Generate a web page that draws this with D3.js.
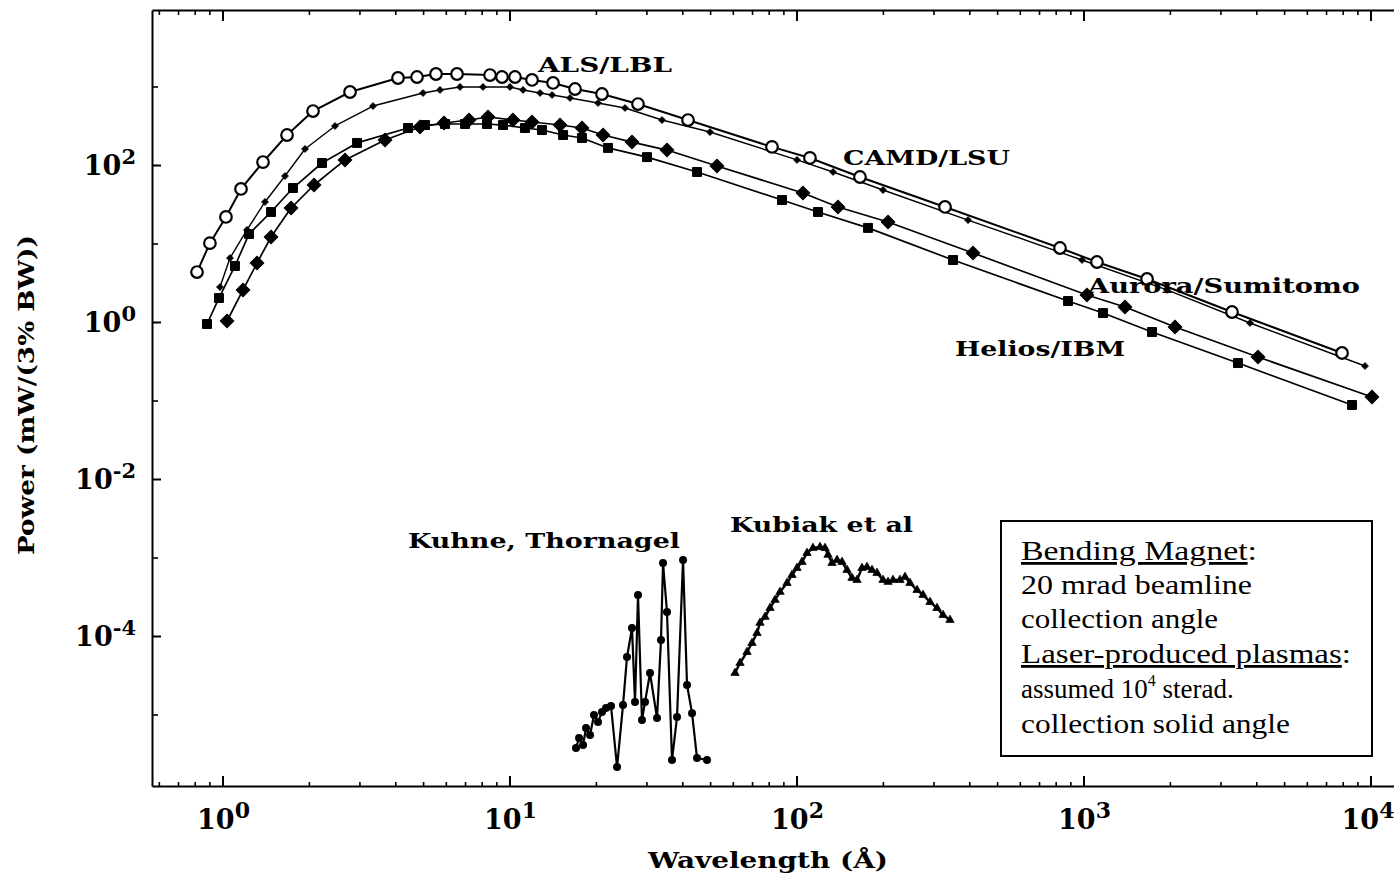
<!DOCTYPE html>
<html><head><meta charset="utf-8">
<script src="https://cdn.jsdelivr.net/npm/d3@7"></script>
<style>html,body{margin:0;padding:0;background:#fff;} svg{display:block;}</style>
</head><body>
<svg id="chart" width="1394" height="879"></svg>
<script>
// ---------------- data ----------------
const xDomain = [0.568, 12670];
const yDomain = [1.228e-6, 9430];
const xMajorTicks = [1, 10, 100, 1000, 10000];
const xTickExponents = ["0", "1", "2", "3", "4"];
const yMajorTicks = [1e2, 1, 1e-2, 1e-4];
const yTickExponents = ["2", "0", "-2", "-4"];
const yMinorTicks = [1e3, 10, 0.1, 1e-3, 1e-5];

// open circles
const alsWavelength = [0.815, 0.904, 1.028, 1.16, 1.384, 1.678, 2.067, 2.782, 4.088, 4.761, 5.545, 6.563, 8.554, 9.417, 10.45, 11.98, 14.18, 16.92, 21.0, 28.04, 41.88, 82.15, 111.4, 166.4, 329.2, 828.2, 1114, 1665, 3292, 7958];
const alsPower = [4.33, 10.1, 21.8, 49.5, 109, 241, 487, 851, 1283, 1321, 1443, 1443, 1400, 1321, 1321, 1211, 1109, 929, 802, 598, 374, 170, 123, 70.3, 29.2, 8.76, 5.81, 3.53, 1.34, 0.403];
// small filled diamonds
const camdWavelength = [0.98, 1.062, 1.217, 1.406, 1.651, 1.939, 2.466, 3.345, 4.996, 5.726, 6.723, 8.085, 10.04, 11.15, 12.78, 14.07, 16.25, 20.34, 25.26, 33.99, 49.95, 100.4, 134.1, 200.2, 396.0, 988.1, 1954, 3803, 9568];
const camdPower = [2.79, 6.53, 14.9, 33.8, 72.4, 160, 314, 564, 826, 903, 986, 986, 986, 903, 826, 779, 714, 616, 532, 374, 263, 116, 81.5, 48.0, 19.9, 6.16, 2.56, 0.971, 0.275];
// filled squares
const heliosWavelength = [0.883, 0.972, 1.105, 1.237, 1.476, 1.76, 2.222, 2.943, 4.43, 5.077, 5.961, 7.0, 8.349, 9.493, 11.32, 12.98, 15.37, 17.89, 22.04, 30.14, 45.02, 89.03, 118.8, 177.5, 351.1, 883.1, 1169, 1733, 3453, 8620];
const heliosPower = [0.943, 2.02, 5.17, 13.2, 25.2, 50.9, 106, 191, 296, 323, 333, 333, 333, 323, 296, 279, 241, 221, 165, 126, 81.5, 35.8, 25.2, 15.8, 6.16, 1.85, 1.30, 0.746, 0.300, 0.0877];
// large filled diamonds
const auroraWavelength = [1.037, 1.179, 1.319, 1.476, 1.733, 2.084, 2.672, 3.684, 4.878, 5.913, 7.228, 8.417, 10.28, 11.98, 15.0, 17.89, 21.18, 26.72, 35.38, 52.84, 105.3, 139.5, 208.4, 412.1, 1028, 1395, 2084, 4055, 10120];
const auroraPower = [1.03, 2.56, 5.64, 12.1, 28.3, 55.6, 116, 208, 305, 343, 374, 409, 374, 353, 323, 296, 241, 196, 155, 97.1, 44.0, 29.2, 18.8, 7.57, 2.21, 1.55, 0.864, 0.358, 0.111];
// Kuhne, Thornagel (filled dots)
const kuhneWavelength = [17.05, 17.47, 18.04, 18.48, 19.08, 19.70, 20.34, 21.00, 21.69, 22.58, 23.70, 24.86, 25.67, 26.72, 27.37, 28.04, 28.95, 29.66, 30.87, 32.66, 33.72, 34.27, 35.38, 36.83, 38.34, 40.24, 41.55, 43.25, 45.02, 48.77];
const kuhnePower = [3.74e-6, 5.02e-6, 4.09e-6, 6.73e-6, 5.48e-6, 9.86e-6, 8.02e-6, 1.08e-5, 1.21e-5, 1.28e-5, 2.14e-6, 1.32e-5, 5.40e-5, 1.26e-4, 1.44e-5, 3.33e-4, 8.51e-6, 1.44e-5, 3.38e-5, 9.02e-6, 8.89e-5, 8.51e-4, 2.02e-4, 2.63e-6, 9.29e-6, 9.29e-4, 2.38e-5, 1.04e-5, 2.79e-6, 2.63e-6];
// Kubiak et al (triangles)
const kubiakWavelength = [61.06, 63.56, 67.23, 69.98, 72.85, 74.62, 77.68, 80.86, 84.18, 87.62, 92.66, 96.45, 100.4, 104.5, 108.8, 114.1, 120.8, 125.7, 128.8, 133.0, 138.4, 144.1, 150.0, 156.1, 162.5, 169.1, 176.0, 183.3, 190.8, 200.2, 208.4, 216.9, 229.4, 238.8, 248.6, 263.0, 276.0, 291.9, 308.7, 324.0, 342.6];
const kubiakPower = [3.38e-5, 4.53e-5, 6.25e-5, 8.14e-5, 1.09e-4, 1.47e-4, 1.75e-4, 2.27e-4, 2.88e-4, 3.64e-4, 4.73e-4, 5.98e-4, 7.35e-4, 8.77e-4, 1.14e-3, 1.32e-3, 1.36e-3, 1.32e-3, 1.08e-3, 8.51e-4, 9.29e-4, 8.77e-4, 6.93e-4, 5.48e-4, 5.17e-4, 7.35e-4, 7.57e-4, 6.93e-4, 6.35e-4, 5.17e-4, 4.88e-4, 5.17e-4, 5.17e-4, 5.65e-4, 4.73e-4, 3.85e-4, 3.33e-4, 2.71e-4, 2.27e-4, 1.85e-4, 1.60e-4];

const seriesLabels = ["ALS/LBL", "CAMD/LSU", "Aurora/Sumitomo", "Helios/IBM", "Kuhne, Thornagel", "Kubiak et al"];
const xTitle = "Wavelength (Å)";
const yTitle = "Power (mW/(3% BW))";
const noteLines = ["20 mrad beamline", "collection angle", "assumed 10", "collection solid angle"];

// ---------------- drawing ----------------
const svg = d3.select("#chart");
svg.append("rect").attr("width", 1394).attr("height", 879).attr("fill", "#fff");
const L = 152, T = 10, B = 786, R = 1400;
const x = d3.scaleLog().domain(xDomain).range([L, R]);
const y = d3.scaleLog().domain(yDomain).range([B, T]);
const bold = "'DejaVu Serif', serif";

function styleAxis(g, w) {
  g.selectAll(".domain").attr("stroke", "#000").attr("stroke-width", 2);
  g.selectAll(".tick line").attr("stroke", "#000").attr("stroke-width", w);
  g.selectAll(".tick text").remove();
}
const xMinor = x.ticks().filter(v => !xMajorTicks.some(m => Math.abs(v - m) / m < 1e-6));

// bottom axis (ticks pointing in)
const gb = svg.append("g").attr("transform", `translate(0,${B})`)
  .call(d3.axisTop(x).tickValues(xMajorTicks).tickSize(10).tickSizeOuter(0).tickFormat(""));
styleAxis(gb, 2);
const gb2 = svg.append("g").attr("transform", `translate(0,${B})`)
  .call(d3.axisTop(x).tickValues(xMinor).tickSize(4).tickSizeOuter(0).tickFormat(""));
gb2.select(".domain").remove(); styleAxis(gb2, 1.6);
// top axis
const gt = svg.append("g").attr("transform", `translate(0,${T})`)
  .call(d3.axisBottom(x).tickValues(xMajorTicks).tickSize(11).tickSizeOuter(0).tickFormat(""));
styleAxis(gt, 2);
const gt2 = svg.append("g").attr("transform", `translate(0,${T})`)
  .call(d3.axisBottom(x).tickValues(xMinor).tickSize(5).tickSizeOuter(0).tickFormat(""));
gt2.select(".domain").remove(); styleAxis(gt2, 1.6);
// left axis
const gl = svg.append("g").attr("transform", `translate(${L},0)`)
  .call(d3.axisRight(y).tickValues(yMajorTicks).tickSize(9).tickSizeOuter(0).tickFormat(""));
styleAxis(gl, 2);
const gl2 = svg.append("g").attr("transform", `translate(${L},0)`)
  .call(d3.axisRight(y).tickValues(yMinorTicks).tickSize(6).tickSizeOuter(0).tickFormat(""));
gl2.select(".domain").remove(); styleAxis(gl2, 1.6);

// x tick labels
xMajorTicks.forEach((v, i) => {
  const t = svg.append("text").attr("x", Math.min(x(v) + 1, 1368)).attr("y", 829)
    .attr("text-anchor", "middle").attr("font-family", bold).attr("font-weight", "bold");
  t.append("tspan").attr("font-size", 27).text("10");
  t.append("tspan").attr("font-size", 22).attr("dy", -11).text(xTickExponents[i]);
});
// y tick labels
yMajorTicks.forEach((v, i) => {
  const t = svg.append("text").attr("x", 136).attr("y", y(v) + 10)
    .attr("text-anchor", "end").attr("font-family", bold).attr("font-weight", "bold");
  t.append("tspan").attr("font-size", 27).text("10");
  t.append("tspan").attr("font-size", 21).attr("dy", -11).text(yTickExponents[i]);
});

// axis titles
svg.append("text").attr("x", 648).attr("y", 868).attr("font-family", bold).attr("font-weight", "bold")
  .attr("font-size", 23).attr("textLength", 240).attr("lengthAdjust", "spacingAndGlyphs").text(xTitle);
svg.append("text").attr("transform", "translate(34,555) rotate(-90)").attr("font-family", bold)
  .attr("font-weight", "bold").attr("font-size", 22).attr("textLength", 320)
  .attr("lengthAdjust", "spacingAndGlyphs").text(yTitle);

// series
const line = d3.line().x(d => x(d[0])).y(d => y(d[1]));
const zip = (a, b) => a.map((v, i) => [v, b[i]]);
function drawLine(data, w) {
  svg.append("path").datum(data).attr("d", line).attr("fill", "none")
    .attr("stroke", "#000").attr("stroke-width", w).attr("stroke-linejoin", "round");
}
const als = zip(alsWavelength, alsPower);
const camd = zip(camdWavelength, camdPower);
const helios = zip(heliosWavelength, heliosPower);
const aurora = zip(auroraWavelength, auroraPower);
const kuhne = zip(kuhneWavelength, kuhnePower);
const kubiak = zip(kubiakWavelength, kubiakPower);

drawLine(helios, 1.7);
drawLine(aurora, 1.7);
drawLine(camd, 1.4);
drawLine(als, 2);
drawLine(kuhne, 2.2);
drawLine(kubiak, 2.4);

function drawSym(data, type, size, rot, fill, stroke, sw) {
  svg.append("g").selectAll("path").data(data).join("path")
    .attr("d", d3.symbol(type, size))
    .attr("transform", d => `translate(${x(d[0])},${y(d[1])}) rotate(${rot})`)
    .attr("fill", fill).attr("stroke", stroke).attr("stroke-width", sw);
}
drawSym(helios, d3.symbolSquare, 80, 0, "#000", "#000", 1);
drawSym(aurora, d3.symbolSquare, 92, 45, "#000", "#000", 1);
drawSym(camd, d3.symbolSquare, 26, 45, "#000", "#000", 0.5);
svg.append("g").selectAll("circle").data(als).join("circle")
  .attr("cx", d => x(d[0])).attr("cy", d => y(d[1])).attr("r", 5.8)
  .attr("fill", "#fff").attr("stroke", "#000").attr("stroke-width", 2.2);
svg.append("g").selectAll("circle").data(kuhne).join("circle")
  .attr("cx", d => x(d[0])).attr("cy", d => y(d[1])).attr("r", 4)
  .attr("fill", "#000");
drawSym(kubiak, d3.symbolTriangle, 30, 0, "#000", "#000", 0.8);

// series labels
const labelPos = [[538, 72, 134], [843, 165, 167], [1088, 293, 272], [955, 356, 170], [408, 548, 272], [730, 532, 183]];
seriesLabels.forEach((s, i) => {
  const p = labelPos[i];
  svg.append("text").attr("x", p[0]).attr("y", p[1]).attr("font-family", bold)
    .attr("font-weight", "bold").attr("font-size", 21).attr("textLength", p[2])
    .attr("lengthAdjust", "spacingAndGlyphs").text(s);
});

// note box
svg.append("rect").attr("x", 1001).attr("y", 521).attr("width", 371).attr("height", 235)
  .attr("fill", "#fff").attr("stroke", "#000").attr("stroke-width", 2);
const serif = "'Liberation Serif', 'Times New Roman', serif";
function note(yb, len) {
  const t = svg.append("text").attr("x", 1021).attr("y", yb).attr("font-family", serif)
    .attr("font-size", 28);
  if (len) t.attr("textLength", len).attr("lengthAdjust", "spacingAndGlyphs");
  return t;
}
let t1 = note(560, 236);
t1.append("tspan").attr("text-decoration", "underline").text("Bending Magnet");
t1.append("tspan").text(":");
note(594, 231).text(noteLines[0]);
note(628, 197).text(noteLines[1]);
let t4 = note(663, 330);
t4.append("tspan").attr("text-decoration", "underline").text("Laser-produced plasmas");
t4.append("tspan").text(":");
let t5 = note(698, 0).attr("font-size", 27);
t5.append("tspan").text(noteLines[2]);
t5.append("tspan").attr("font-size", 16).attr("dy", -12).text("4");
t5.append("tspan").attr("dy", 12).text(" sterad.");
note(733, 269).text(noteLines[3]);
</script>
</body></html>
